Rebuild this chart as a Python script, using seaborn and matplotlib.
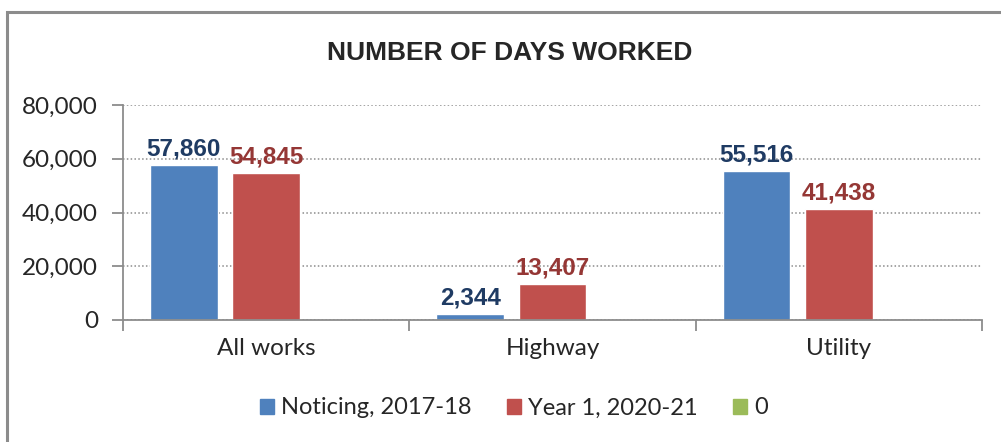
import pandas as pd
import matplotlib.pyplot as plt
import matplotlib.patches as mpatches
from matplotlib.ticker import FuncFormatter, FixedLocator
import seaborn as sns

categories = ['All works', 'Highway', 'Utility']
series = ['Noticing, 2017-18', 'Year 1, 2020-21', '0']
noticing = [57860, 2344, 55516]
year1 = [54845, 13407, 41438]
zero = [0, 0, 0]

df = pd.DataFrame({
    'category': categories * 3,
    'series': [series[0]] * 3 + [series[1]] * 3 + [series[2]] * 3,
    'days': noticing + year1 + zero,
})

sns.set_style('white')
plt.rcParams['font.family'] = ['Lato', 'DejaVu Sans']
bold_font = ['Liberation Sans', 'DejaVu Sans']

colors = ['#4F81BD', '#C0504D', '#9BBB59']
label_colors = ['#1F3B63', '#953735']

fig = plt.figure(figsize=(10.01, 4.42), dpi=100)
ax = fig.add_axes([123 / 1001, 1 - 320 / 442, (982 - 123) / 1001, (320 - 105) / 442])

sns.barplot(data=df, x='category', y='days', hue='series', order=categories,
            hue_order=series, palette=colors, width=0.8625, gap=0.176,
            saturation=1, ax=ax, legend=True)

ax.set_ylim(0, 80000)
ax.set_xlim(-0.5, 2.5)
ax.set_yticks([0, 20000, 40000, 60000, 80000])
ax.yaxis.set_major_formatter(FuncFormatter(lambda v, p: f'{int(v):,}'))
ax.set_xlabel('')
ax.set_ylabel('')

# gridlines
ax.yaxis.grid(True, linestyle=(0, (1, 1.5)), color='#8c8c8c', linewidth=1.1)
ax.set_axisbelow(True)

for s in ['top', 'right']:
    ax.spines[s].set_visible(False)
for s in ['left', 'bottom']:
    ax.spines[s].set_color('#8c8c8c')
    ax.spines[s].set_linewidth(1.3)

ax.tick_params(axis='y', which='major', length=8, width=1.3, color='#8c8c8c',
               labelsize=17.5, pad=10, left=True)
ax.tick_params(axis='x', which='major', length=0, labelsize=17.5, pad=13)
ax.xaxis.set_minor_locator(FixedLocator([-0.5, 0.5, 1.5, 2.5]))
ax.tick_params(axis='x', which='minor', length=8, width=1.3, color='#8c8c8c', bottom=True)

# data labels
for cont, vals, c in zip(ax.containers[:2], [noticing, year1], label_colors):
    ax.bar_label(cont, labels=[f'{v:,}' for v in vals], padding=3,
                 fontsize=17.5, fontweight='bold', family=bold_font, color=c)

ax.legend_.remove()
handles = [mpatches.Patch(color=c) for c in colors]
fig.legend(handles, series, loc='center', bbox_to_anchor=(514 / 1001, 1 - 408 / 442),
           ncol=3, frameon=False, fontsize=17, handlelength=0.6, handleheight=0.6,
           handletextpad=0.3, columnspacing=1.5)

fig.text(510 / 1001, 1 - 53 / 442, 'NUMBER OF DAYS WORKED', ha='center', va='center',
         fontsize=19, fontweight='bold', family=bold_font)

# outer frame
fig.patches.append(mpatches.Rectangle((7 / 1001, -0.2), 1.5, 1 - 12 / 442 + 0.2,
                                      transform=fig.transFigure, fill=False,
                                      edgecolor='#8c8c8c', linewidth=2.2))

fig.savefig('out.png', dpi=100)
